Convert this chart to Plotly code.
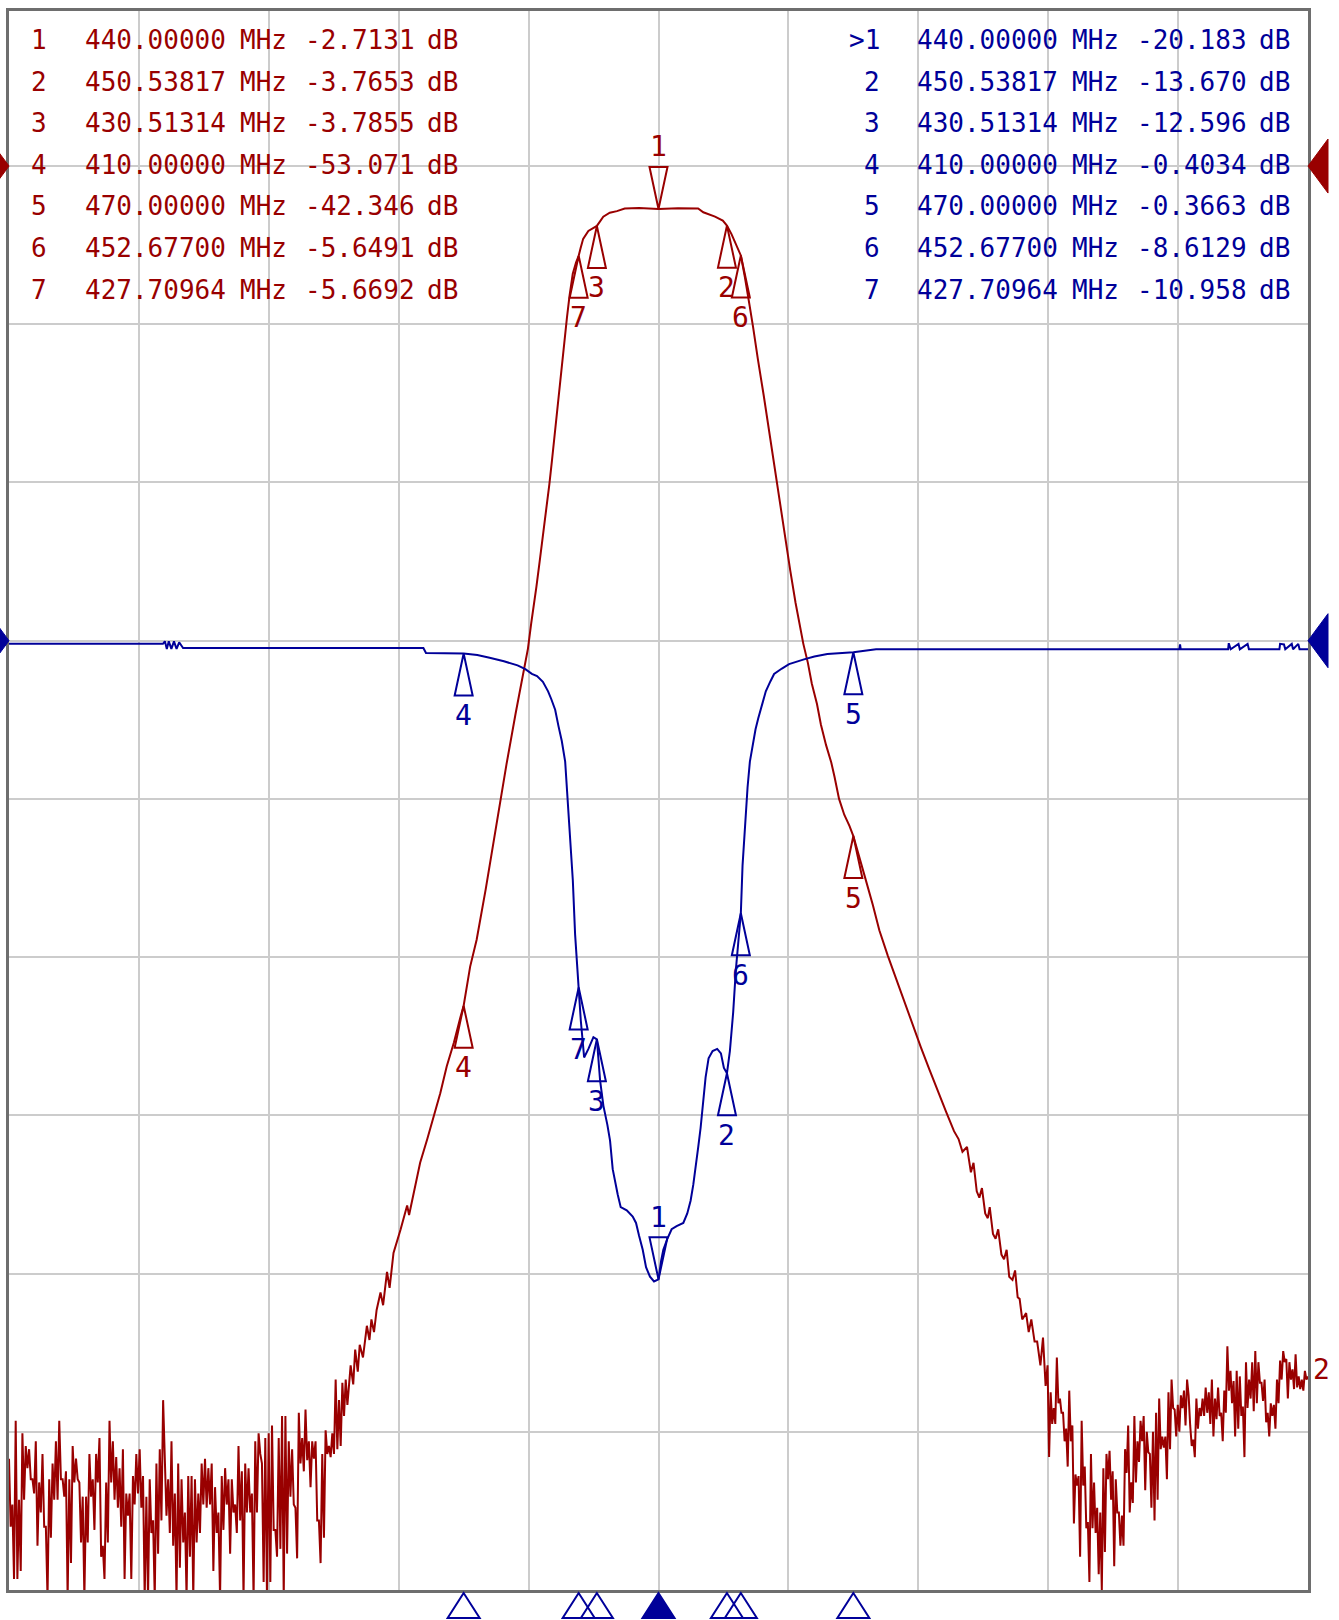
import numpy as np
import plotly.graph_objects as go

# ---------------- data ----------------
MARKER_IDS = ["1", "2", "3", "4", "5", "6", "7"]
MARKER_FREQ = [440.0, 450.53817, 430.51314, 410.0, 470.0, 452.677, 427.70964]
S21_MARKER_DB = [-2.7131, -3.7653, -3.7855, -53.071, -42.346, -5.6491, -5.6692]
S11_MARKER_DB = [-20.183, -13.670, -12.596, -0.4034, -0.3663, -8.6129, -10.958]
ACTIVE_MARKER = "1"

# S21 (red) noise floor, left part, read bar by bar
S21_NOISE_LEFT_SPAN = (340.0, 392.1)
S21_NOISE_LEFT_DB = [
    -81.7, -86.0, -84.6, -89.3, -79.3, -89.3, -84.3, -88.8, -80.1, -84.3, -80.9, -82.3,
    -81.1, -83.0, -83.0, -83.9, -80.6, -87.2, -83.2, -85.1, -81.4, -86.0, -86.0, -90.5,
    -83.0, -86.7, -82.0, -84.3, -80.6, -84.3, -79.3, -83.0, -83.0, -84.1, -82.5, -90.5,
    -83.0, -88.3, -80.9, -83.2, -81.7, -83.0, -83.2, -87.0, -84.1, -90.5, -84.1, -87.0,
    -81.4, -84.1, -83.0, -86.2, -81.4, -83.2, -80.4, -87.9, -87.2, -89.3, -83.2, -87.0,
    -79.3, -83.2, -80.6, -84.3, -81.6, -84.8, -82.3, -86.0, -81.1, -89.3, -83.9, -85.3,
    -83.9, -89.3, -82.8, -84.6, -81.4, -83.9, -81.1, -84.8, -82.8, -90.5, -84.1, -90.5,
    -83.0, -86.4, -85.6, -90.5, -82.0, -87.7, -81.1, -85.6, -78.0, -81.1, -85.3, -83.0,
    -86.4, -80.6, -87.2, -83.9, -90.5, -82.0, -88.6, -83.0, -87.0, -85.1, -90.5, -82.8,
    -87.9, -82.8, -90.5, -83.0, -87.0, -83.9, -86.4, -82.0, -84.6, -81.7, -84.8, -82.3,
    -84.6, -82.0, -88.8, -83.5, -86.4, -85.1, -90.5, -82.8, -86.2, -82.3, -84.6, -83.0,
    -87.7, -83.0, -85.1, -84.6, -86.4, -80.9, -85.6, -82.5, -90.5, -82.0, -85.1, -82.3,
    -85.1, -83.9, -90.5, -80.6, -85.1, -80.1, -81.4, -82.0, -89.5, -80.4, -90.5, -80.1,
    -89.5, -79.6, -86.2, -86.2, -87.9, -80.4, -87.4, -79.0, -90.5, -79.0, -87.7, -80.6,
    -84.1, -81.1, -84.6, -84.8, -88.0, -78.8, -82.0, -80.4, -82.5, -78.6, -81.8, -80.6,
    -83.5, -80.6, -81.7, -80.6, -85.6, -85.6, -88.3, -81.4, -86.7, -79.9, -81.4, -80.9,
    -81.6, -80.1, -81.4, -76.7, -81.1, -78.0, -80.9, -76.9, -79.0, -76.7, -78.3,
]

# S21 (red) skirts and passband
S21_SKIRT_FREQ = [
    392.6, 393.0, 393.3, 393.7, 394.0, 394.5, 395.1, 395.5, 395.8, 396.2, 396.6, 397.2,
    397.6, 398.2, 398.6, 399.2, 400.3, 401.3, 401.6, 402.3, 403.3, 404.4, 405.4, 406.4,
    407.4, 408.5, 409.5, 410.0, 411.0, 412.0, 413.4, 415.0, 416.6, 418.0, 419.0, 419.9,
    420.4, 420.8, 421.2, 421.7, 422.05, 422.5, 422.8, 423.2, 423.6, 424.0, 424.4, 424.8,
    425.1, 425.5, 425.9, 426.3, 426.8, 427.3, 427.70964, 428.0, 428.4, 429.2, 430.0,
    430.51314, 431.5, 432.5, 433.6, 434.8, 437.0, 440.0, 443.0, 446.1, 446.9, 448.7,
    449.9, 450.53817, 451.24, 451.76, 452.27, 452.677, 453.29, 453.8, 454.06, 454.57,
    454.98, 455.3, 456.2, 457.1, 458.0, 458.8, 459.5, 460.3, 461.1, 461.7, 462.3, 463.0,
    463.6, 464.4, 465.0, 465.8, 466.6, 467.1, 467.8, 468.6, 469.4, 470.0, 470.9, 471.9,
    473.0, 474.0, 475.3, 476.6, 477.8, 479.1, 480.4, 481.7, 483.0, 484.3, 485.5, 486.2,
    486.8, 487.5, 488.1, 488.5, 489.0, 489.4, 489.8, 490.3, 490.7, 491.0, 491.5, 491.9,
    492.3, 492.8, 493.2, 493.6, 494.0, 494.5, 494.9, 495.3, 495.6, 496.0, 496.6, 497.0,
    497.4, 497.9, 498.3, 498.8, 499.2, 499.6,
]
S21_SKIRT_DB = [
    -75.8, -77.0, -74.8, -76.2, -74.5, -75.3, -73.3, -74.2, -72.9, -73.7, -72.3, -71.2,
    -72.0, -69.9, -70.9, -68.7, -67.2, -65.7, -66.3, -64.9, -63.0, -61.5, -60.1, -58.6,
    -56.9, -55.4, -53.8, -53.071, -50.6, -48.9, -45.7, -41.6, -37.8, -34.6, -32.3, -30.5,
    -28.9, -27.8, -26.6, -25.0, -23.9, -22.5, -21.5, -20.1, -18.6, -17.0, -15.4, -13.8,
    -12.5, -11.0, -9.6, -8.2, -6.8, -6.1, -5.6692, -5.2, -4.6, -4.1, -3.9,
    -3.7855, -3.2, -2.95, -2.85, -2.68, -2.65, -2.7131, -2.66, -2.68, -2.92, -3.2,
    -3.45, -3.7653, -4.3, -4.75, -5.2, -5.6491, -7.0, -8.1, -8.9, -10.2,
    -11.4, -12.2, -14.5, -17.0, -19.5, -21.7, -23.5, -25.6, -27.6, -28.9, -30.2, -31.4,
    -32.7, -34.0, -35.3, -36.6, -37.7, -38.6, -40.0, -41.0, -41.7, -42.346, -43.6, -45.1,
    -46.7, -48.3, -49.9, -51.4, -52.8, -54.3, -55.7, -57.1, -58.5, -59.8, -61.0, -61.5,
    -62.3, -62.0, -63.6, -63.0, -64.8, -65.2, -64.6, -66.2, -66.5, -65.8, -67.5, -67.8,
    -67.2, -68.8, -69.1, -68.5, -70.2, -70.4, -69.8, -71.5, -71.6, -72.9, -72.5, -73.7,
    -72.9, -74.3, -74.3, -75.8, -74.05, -77.1,
]

# S21 (red) noise floor, right part
S21_NOISE_RIGHT_SPAN = (499.9, 540.0)
S21_NOISE_RIGHT_DB = [
    -75.8, -81.6, -77.5, -79.5, -78.5, -79.5, -75.3, -78.2, -77.9, -78.8, -78.8, -80.6,
    -79.8, -82.2, -77.4, -80.6, -79.6, -85.8, -82.7, -83.4, -82.8, -87.9, -79.3, -83.4,
    -82.2, -86.1, -85.7, -89.5, -81.4, -86.1, -83.2, -86.4, -84.8, -89.0, -85.1, -90.0,
    -82.3, -87.6, -81.4, -83.0, -81.2, -84.3, -82.5, -88.5, -83.0, -85.1, -85.1, -87.2,
    -85.3, -87.2, -81.1, -82.6, -79.6, -85.1, -83.2, -84.5, -79.0, -83.2, -80.6, -81.9,
    -79.3, -80.6, -79.0, -83.7, -80.0, -81.3, -81.4, -84.8, -80.0, -85.6, -78.8, -84.3,
    -77.9, -81.1, -80.3, -81.0, -80.3, -83.0, -77.5, -81.1, -76.7, -78.5, -78.6, -80.3,
    -78.3, -80.0, -77.7, -78.5, -77.4, -79.6, -76.7, -77.7, -79.6, -80.9, -80.5, -81.6,
    -77.9, -79.8, -78.5, -79.0, -77.9, -79.0, -77.2, -78.8, -77.5, -79.5, -76.7, -80.3,
    -77.9, -79.2, -77.2, -79.0, -78.8, -80.6, -77.4, -78.8, -74.6, -77.4, -76.15, -78.2,
    -76.8, -80.3, -76.15, -79.8, -76.5, -79.0, -78.4, -81.6, -75.6, -78.5, -76.7, -77.9,
    -75.6, -78.7, -74.9, -78.2, -75.6, -76.9, -76.9, -78.05, -76.7, -79.4, -78.8, -80.3,
    -78.2, -79.0, -78.3, -79.8, -76.7, -78.2, -75.5, -76.7, -74.9, -75.6, -75.4, -77.9,
    -75.6, -76.7, -76.05, -77.3, -75.1, -77.2, -76.5, -77.3, -76.7, -77.4, -76.15, -76.7,
    -76.5,
]

# S11 (blue)
S11_FREQ = [
    340.0, 363.7, 364.0, 364.3, 364.6, 365.0, 365.4, 365.8, 366.2, 366.8, 403.8, 404.2,
    410.0, 412.1, 414.0, 416.2, 418.3, 419.5, 420.5, 421.3, 422.2, 423.0, 423.5, 424.09,
    424.6, 425.11, 425.63, 426.04, 426.40, 426.81, 427.16, 427.52, 427.70964, 428.04,
    428.55, 429.21, 429.98, 430.51314, 431.01, 431.52, 432.13, 432.54, 432.95, 433.31,
    433.72, 434.18, 435.11, 436.03, 436.54, 437.00, 437.57, 438.08, 438.69, 439.31,
    440.0, 440.4, 440.74, 441.36, 442.02, 442.79, 443.82, 444.43, 444.94, 445.35,
    445.71, 446.12, 446.48, 446.89, 447.25, 447.71, 448.33, 449.04, 449.61, 450.07,
    450.53817, 450.99, 451.50, 451.91, 452.32, 452.677, 452.94, 453.30, 453.71, 454.07,
    454.47, 454.94, 455.35, 455.86, 456.52, 457.24, 457.8, 459.0, 460.1, 462.4, 464.0,
    466.0, 470.0, 473.5, 520.2, 520.3, 520.4, 527.7, 527.8, 528.1, 529.3, 529.5, 530.7,
    530.9, 535.6, 535.7, 536.3, 536.5, 537.5, 537.7, 538.5, 538.7, 540.0,
]
S11_DB = [
    -0.10, -0.10, -0.02, -0.26, -0.02, -0.26, -0.02, -0.26, -0.05, -0.23, -0.23, -0.39,
    -0.4034, -0.45, -0.54, -0.65, -0.78, -0.90, -1.05, -1.12, -1.30, -1.60, -1.85, -2.18,
    -2.70, -3.17, -3.82, -5.02, -6.12, -7.58, -9.28, -10.51, -10.958, -12.01,
    -13.17, -12.90, -12.53, -12.596, -13.9, -14.7, -15.3, -15.8, -16.7, -17.1,
    -17.5, -17.9, -18.0, -18.2, -18.4, -18.8, -19.25, -19.8, -20.1, -20.25,
    -20.183, -19.6, -19.25, -18.9, -18.6, -18.5, -18.4, -18.1, -17.7, -17.2,
    -16.7, -16.0, -15.4, -14.5, -13.8, -13.2, -12.97, -12.9, -13.04, -13.5,
    -13.670, -12.97, -11.74, -10.4, -9.28, -8.6129, -7.1, -5.87, -4.64, -3.82,
    -3.28, -2.8, -2.46, -2.05, -1.6, -1.28, -1.05, -0.88, -0.74, -0.59, -0.50,
    -0.42, -0.3663, -0.27, -0.27, -0.12, -0.27, -0.27, -0.08, -0.27, -0.10, -0.27, -0.10,
    -0.27, -0.27, -0.10, -0.12, -0.27, -0.10, -0.27, -0.10, -0.27, -0.27,
]

# ---------------- style ----------------
RED = "#990000"
BLUE = "#000099"
GRID = "#cccccc"
FRAME = "#6e6e6e"
FONT = "DejaVu Sans Mono, Liberation Mono, monospace"
FS_TABLE = 26
FS_LABEL = 28

W, H = 1339, 1620
ML, MR, MT, MB = 9, 31, 8, 30
PW, PH = W - ML - MR, H - MT - MB

fig = go.Figure()

x_left = np.linspace(S21_NOISE_LEFT_SPAN[0], S21_NOISE_LEFT_SPAN[1], len(S21_NOISE_LEFT_DB))
x_right = np.linspace(S21_NOISE_RIGHT_SPAN[0], S21_NOISE_RIGHT_SPAN[1], len(S21_NOISE_RIGHT_DB))
s21_f = np.concatenate([x_left, S21_SKIRT_FREQ, x_right])
s21_db = np.concatenate([S21_NOISE_LEFT_DB, S21_SKIRT_DB, S21_NOISE_RIGHT_DB])

fig.add_trace(go.Scatter(x=s21_f, y=s21_db, mode="lines", yaxis="y",
                         line=dict(color=RED, width=2), hoverinfo="skip"))
fig.add_trace(go.Scatter(x=S11_FREQ, y=S11_DB, mode="lines", yaxis="y2",
                         line=dict(color=BLUE, width=2), hoverinfo="skip"))

shapes = []
annotations = []

TRI_H, TRI_W, LBL = 42, 9, 62
for mid, f, d21, d11 in zip(MARKER_IDS, MARKER_FREQ, S21_MARKER_DB, S11_MARKER_DB):
    active = (mid == ACTIVE_MARKER)
    sgn = 1 if active else -1
    path = f"M0,0 L{-TRI_W},{sgn*TRI_H} L{TRI_W},{sgn*TRI_H} Z"
    for yref, val, col in (("y", d21, RED), ("y2", d11, BLUE)):
        shapes.append(dict(type="path", xref="x", yref=yref, xsizemode="pixel",
                           ysizemode="pixel", xanchor=f, yanchor=val, path=path,
                           line=dict(color=col, width=2), fillcolor="rgba(0,0,0,0)"))
        annotations.append(dict(x=f, y=val, xref="x", yref=yref, text=mid,
                                showarrow=False, yshift=sgn * LBL,
                                font=dict(family=FONT, size=FS_LABEL, color=col),
                                xanchor="center", yanchor="middle"))
    # stimulus marker triangles under the grid
    shapes.append(dict(type="path", xref="x", yref="paper", xsizemode="pixel",
                       ysizemode="pixel", xanchor=f, yanchor=0,
                       path="M0,-3 L-16,-28 L16,-28 Z",
                       line=dict(color=BLUE, width=2),
                       fillcolor=BLUE if active else "rgba(0,0,0,0)"))

# reference level arrows
for yref, col in (("y", RED), ("y2", BLUE)):
    shapes.append(dict(type="path", xref="paper", yref=yref, xsizemode="pixel",
                       ysizemode="pixel", xanchor=1, yanchor=0,
                       path="M0,0 L20,27 L20,-27 Z", line=dict(color=col, width=1),
                       fillcolor=col))
    shapes.append(dict(type="path", xref="paper", yref=yref, xsizemode="pixel",
                       ysizemode="pixel", xanchor=0, yanchor=0,
                       path="M0,0 L-20,27 L-20,-27 Z", line=dict(color=col, width=1),
                       fillcolor=col))

# trace number at the right end of S21
annotations.append(dict(x=1, y=S21_NOISE_RIGHT_DB[-1], xref="paper", yref="y", text="2",
                        showarrow=False, xanchor="left", yanchor="middle", xshift=3,
                        yshift=7, font=dict(family=FONT, size=FS_LABEL, color=RED)))


def fmt_db(v):
    return f"{v:.4f}" if abs(v) < 10 else f"{v:.3f}"


def px(x):
    return (x - ML) / PW


def py(y):
    return 1 - (y - MT) / PH


ROW0, ROWH = 37, 41.7
tables = [
    (S21_MARKER_DB, RED, 49, 83, 238, 303, 425, False),
    (S11_MARKER_DB, BLUE, 882, 915, 1070, 1135, 1257, True),
]
for vals, col, xn, xf, xu, xv, xd, show_active in tables:
    for i, (mid, f, v) in enumerate(zip(MARKER_IDS, MARKER_FREQ, vals)):
        yy = py(ROW0 + i * ROWH)
        lab = ("&gt;" + mid) if (show_active and mid == ACTIVE_MARKER) else mid
        items = [(xn, lab, "right"), (xf, f"{f:.5f}", "left"), (xu, "MHz", "left"),
                 (xv, fmt_db(v), "left"), (xd, "dB", "left")]
        for xx, txt, anc in items:
            annotations.append(dict(x=px(xx), y=yy, xref="paper", yref="paper", text=txt,
                                    showarrow=False, xanchor=anc, yanchor="middle",
                                    font=dict(family=FONT, size=FS_TABLE, color=col)))

axis_common = dict(showticklabels=False, ticks="", zeroline=False, fixedrange=True)
fig.update_layout(
    width=W, height=H,
    margin=dict(l=ML, r=MR, t=MT, b=MB, pad=0),
    paper_bgcolor="white", plot_bgcolor="white", showlegend=False,
    xaxis=dict(range=[340, 540], tick0=340, dtick=20, showgrid=True, gridcolor=GRID,
               gridwidth=2, showline=True, mirror=True, linecolor=FRAME, linewidth=3,
               **axis_common),
    yaxis=dict(range=[-90, 9.8], tick0=-90, dtick=10, showgrid=True, gridcolor=GRID,
               gridwidth=2, showline=True, mirror=True, linecolor=FRAME, linewidth=3,
               **axis_common),
    yaxis2=dict(range=[-30, 19.9], overlaying="y", showgrid=False, showline=False,
                **axis_common),
    shapes=shapes,
    annotations=annotations,
)

fig.write_html("out.html", config={"displayModeBar": False},
               post_script="document.body.style.margin='0';")
